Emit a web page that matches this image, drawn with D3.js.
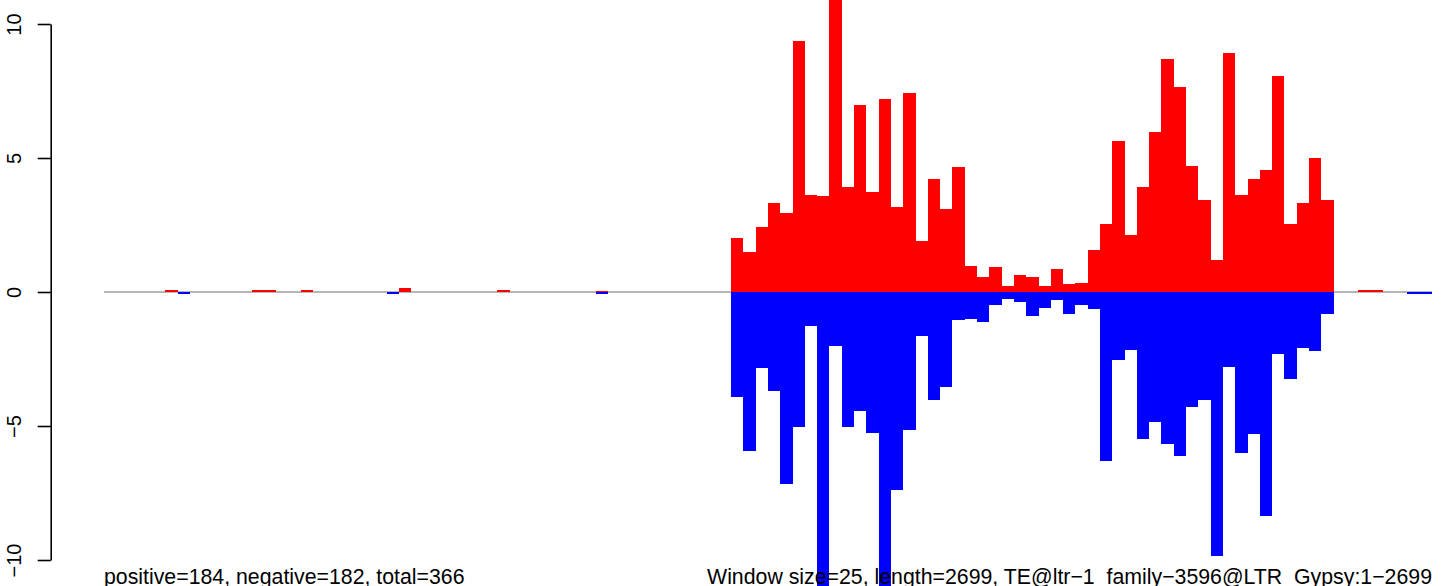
<!DOCTYPE html>
<html>
<head>
<meta charset="utf-8">
<script src="https://cdn.jsdelivr.net/npm/d3@7"></script>
<style>
  html, body { margin: 0; padding: 0; background: #fff; }
  svg { display: block; }
  text { font-family: "Liberation Sans", Arial, Helvetica, sans-serif; fill: #000; }
</style>
</head>
<body>
<svg id="chart" width="1444" height="586"></svg>
<script>
// ---- data ----
const nWindows = 108; // length 2699 / window 25
const windowIndex = d3.range(nWindows); // categories: window index 0..107

const positive = [
  0, 0, 0, 0, 0, 0.075, 0, 0, 0, 0,
  0, 0, 0.075, 0.075, 0, 0, 0.075, 0, 0, 0,
  0, 0, 0, 0, 0.16, 0, 0, 0, 0, 0,
  0, 0, 0.075, 0, 0, 0, 0, 0, 0, 0,
  0.05, 0, 0, 0, 0, 0, 0, 0, 0, 0,
  0, 2.01, 1.49, 2.43, 3.32, 2.95, 9.37, 3.62, 3.58, 11.2,
  3.92, 6.98, 3.73, 7.20, 3.17, 7.43, 1.92, 4.22, 3.10, 4.66,
  0.97, 0.56, 0.93, 0.22, 0.63, 0.56, 0.22, 0.86, 0.30, 0.34,
  1.57, 2.54, 5.63, 2.13, 3.92, 5.97, 8.69, 7.65, 4.70, 3.43,
  1.19, 8.92, 3.62, 4.22, 4.55, 8.06, 2.54, 3.32, 5.00, 3.43,
  0, 0, 0.075, 0.075, 0, 0, 0, 0
];

const negative = [
  0, 0, 0, 0, 0, 0, -0.09, 0, 0, 0,
  0, 0, 0, 0, 0, 0, 0, 0, 0, 0,
  0, 0, 0, -0.09, 0, 0, 0, 0, 0, 0,
  0, 0, 0, 0, 0, 0, 0, 0, 0, 0,
  -0.09, 0, 0, 0, 0, 0, 0, 0, 0, 0,
  0, -3.92, -5.92, -2.84, -3.69, -7.15, -5.02, -1.27, -11.5, -2.01,
  -5.02, -4.44, -5.25, -11.3, -7.38, -5.14, -1.64, -4.02, -3.53, -1.03,
  -1.01, -1.11, -0.49, -0.26, -0.37, -0.88, -0.60, -0.30, -0.82, -0.49,
  -0.63, -6.29, -2.54, -2.16, -5.49, -4.85, -5.67, -6.11, -4.29, -4.03,
  -9.84, -2.80, -6.00, -5.30, -8.35, -2.31, -3.25, -2.09, -2.20, -0.82,
  0, 0, 0, 0, 0, 0, -0.09, -0.09
];

const yTicks = [-10, -5, 0, 5, 10];
const leftLabel = "positive=184, negative=182, total=366";
const rightLabel = "Window size=25, length=2699, TE@ltr\u22121_family\u22123596@LTR_Gypsy:1\u22122699";

// ---- scales ----
const svg = d3.select("#chart");
const x = d3.scaleLinear().domain([0, nWindows]).range([104, 1432]);
const y = d3.scaleLinear().domain([-10, 10]).range([560, 24]);
const axisX = 50.7;

// zero line
svg.append("line")
  .attr("x1", x(0)).attr("x2", x(nWindows))
  .attr("y1", y(0)).attr("y2", y(0))
  .attr("stroke", "#6e6e6e").attr("stroke-width", 1.2);

// bars
const bars = svg.append("g").attr("shape-rendering", "crispEdges");
bars.selectAll("rect.pos")
  .data(windowIndex.filter(i => positive[i] !== 0))
  .join("rect")
  .attr("class", "pos")
  .attr("x", i => x(i))
  .attr("width", i => x(i + 1) - x(i))
  .attr("y", i => y(positive[i]))
  .attr("height", i => y(0) - y(positive[i]))
  .attr("fill", "#ff0000");
bars.selectAll("rect.neg")
  .data(windowIndex.filter(i => negative[i] !== 0))
  .join("rect")
  .attr("class", "neg")
  .attr("x", i => x(i))
  .attr("width", i => x(i + 1) - x(i))
  .attr("y", y(0))
  .attr("height", i => y(negative[i]) - y(0))
  .attr("fill", "#0000ff");

// y axis
const axis = d3.axisLeft(y)
  .tickValues(yTicks)
  .tickSize(13)
  .tickSizeOuter(0)
  .tickFormat(d => d < 0 ? "\u2212" + Math.abs(d) : String(d));
const gAxis = svg.append("g")
  .attr("transform", `translate(${axisX},0)`)
  .call(axis);
gAxis.attr("font-size", null).attr("font-family", null);
gAxis.select(".domain").attr("stroke", "#000").attr("stroke-width", 1.6);
gAxis.selectAll(".tick line").attr("stroke", "#000").attr("stroke-width", 1.6);
gAxis.selectAll(".tick text")
  .attr("transform", "rotate(-90)")
  .attr("x", 0)
  .attr("y", -29.7)
  .attr("dy", 0)
  .attr("text-anchor", "middle")
  .style("font-size", "20px")
  .style("font-family", "'Liberation Sans', Arial, Helvetica, sans-serif")
  .style("fill", "#000");

// bottom texts
svg.append("text")
  .attr("x", x(0)).attr("y", 583.5)
  .style("font-size", "21.3px")
  .attr("text-anchor", "start")
  .text(leftLabel);
svg.append("text")
  .attr("x", x(nWindows)).attr("y", 583.5)
  .style("font-size", "21.3px")
  .attr("text-anchor", "end")
  .text(rightLabel);
</script>
</body>
</html>
